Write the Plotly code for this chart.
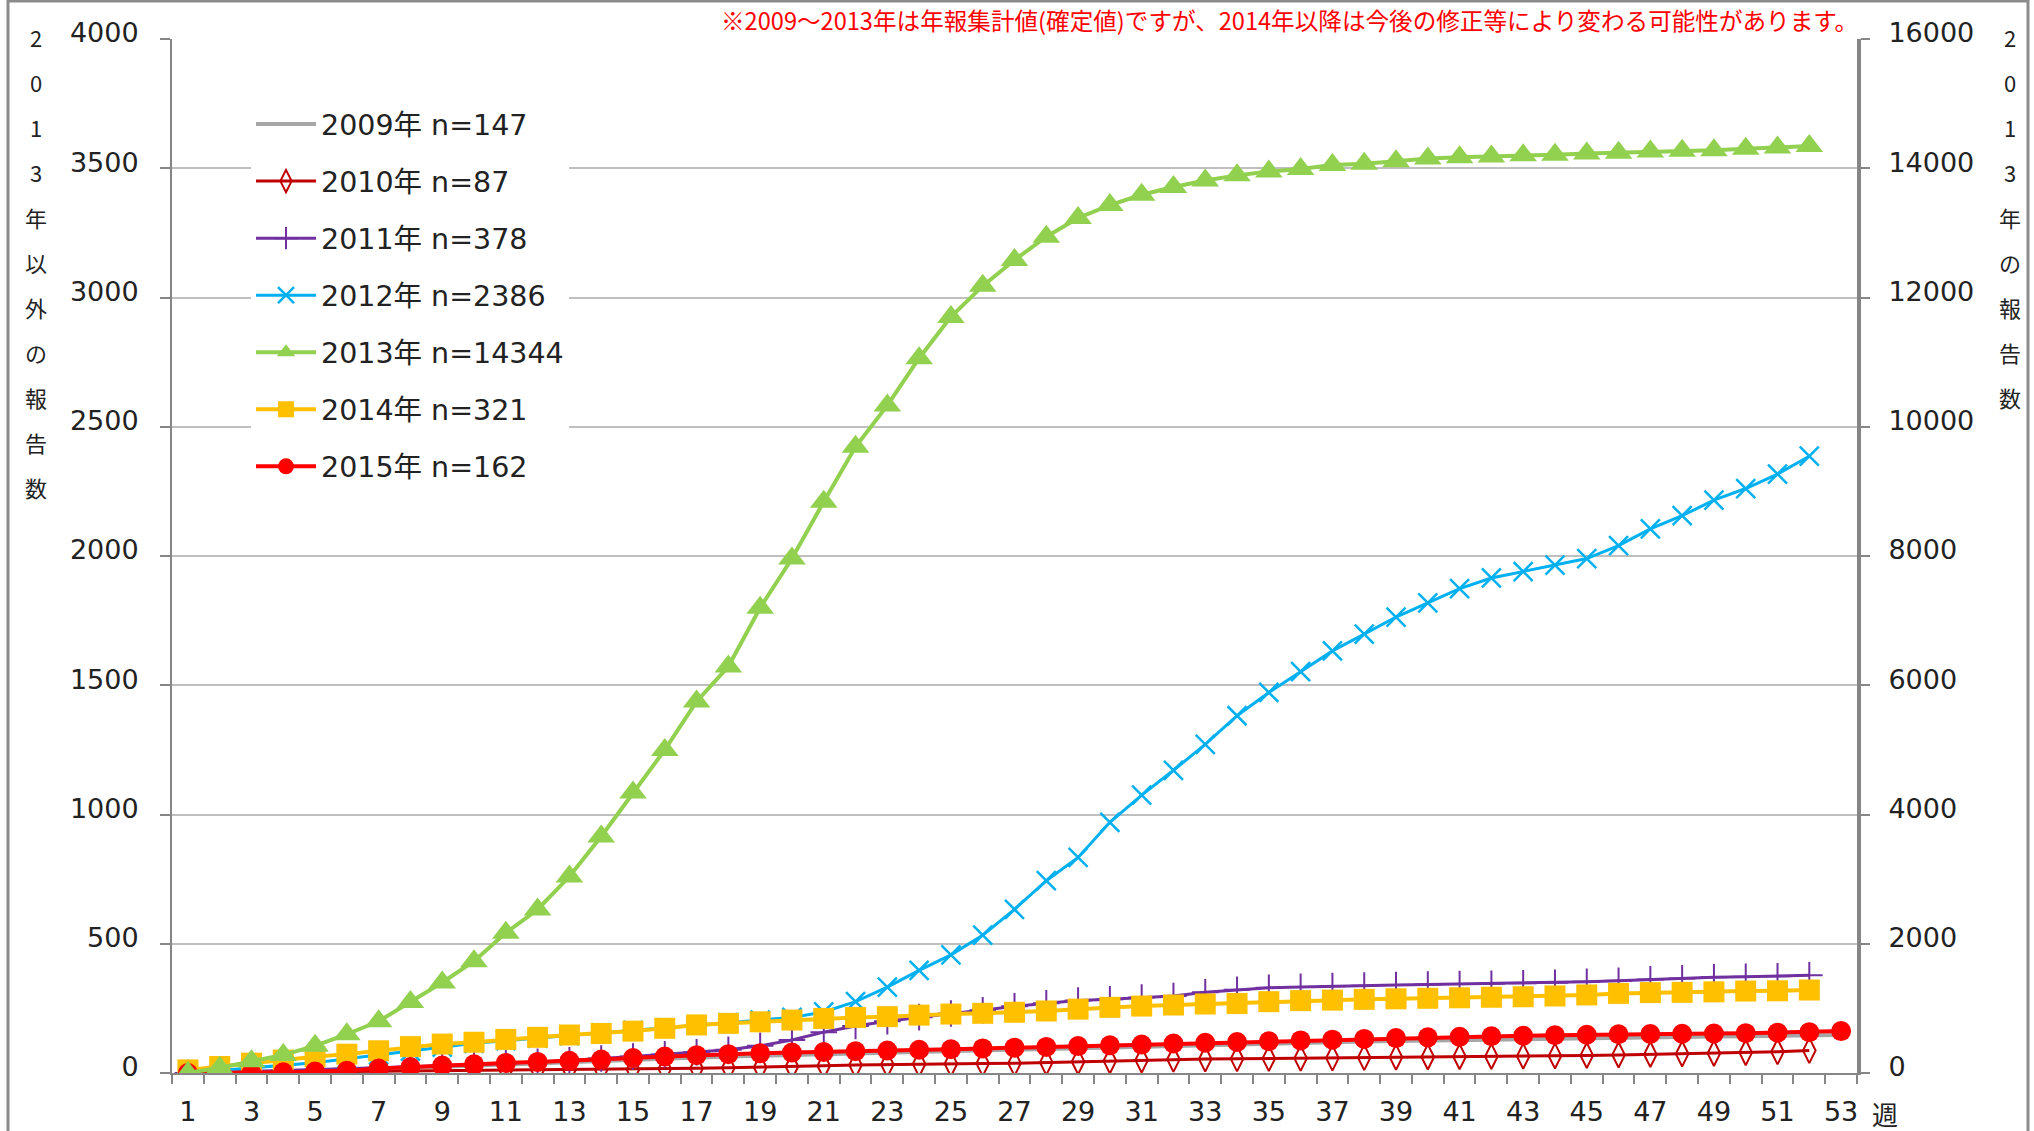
import plotly.graph_objects as go

# ---- data: cumulative weekly reports ----
weeks_52 = list(range(1, 53))
weeks_53 = list(range(1, 54))

y2009 = [0, 0, 0, 2, 5, 8, 15, 20, 25, 30, 34, 38, 42, 46, 51, 56, 60, 64, 67, 70,
         73, 76, 79, 82, 85, 88, 92, 95, 98, 101, 104, 107, 110, 113, 116, 118, 120,
         122, 124, 126, 128, 130, 132, 134, 136, 138, 139, 140, 141, 142, 144, 145, 147]
y2010 = [0, 1, 2, 3, 4, 5, 6, 7, 8, 9, 10, 11, 12, 13, 14, 16, 18, 20, 22, 25,
         28, 31, 33, 35, 36, 37, 38, 41, 44, 47, 50, 53, 54, 55, 56, 57, 58, 60, 61,
         62, 63, 64, 65, 66, 68, 70, 72, 74, 76, 79, 82, 87]
y2011 = [0, 3, 6, 9, 12, 16, 20, 24, 28, 33, 38, 43, 49, 56, 64, 72, 80, 90, 105, 128,
         158, 182, 200, 216, 230, 243, 258, 270, 280, 285, 292, 298, 312, 322, 330, 333,
         336, 338, 340, 342, 344, 345, 347, 349, 353, 357, 362, 366, 370, 372, 374, 378]
y2012 = [0, 10, 20, 30, 40, 55, 70, 85, 100, 115, 125, 135, 145, 155, 165, 175, 185, 195,
         205, 215, 236, 276, 332, 397, 457, 533, 633, 744, 834, 970, 1075, 1171, 1271,
         1382, 1472, 1553, 1633, 1698, 1764, 1819, 1874, 1915, 1940, 1965, 1990, 2040,
         2105, 2156, 2216, 2261, 2317, 2386]
y2013 = [0, 80, 180, 280, 420, 600, 800, 1100, 1400, 1730, 2170, 2530, 3040, 3660, 4340,
         5000, 5750, 6290, 7200, 7960, 8840, 9690, 10330, 11060, 11700, 12180, 12580,
         12940, 13230, 13430, 13590, 13710, 13810, 13890, 13950, 13990, 14050, 14070,
         14110, 14150, 14170, 14180, 14200, 14210, 14230, 14240, 14260, 14270, 14280,
         14300, 14320, 14344]
y2014 = [12, 25, 38, 50, 63, 73, 86, 102, 112, 119, 130, 138, 147, 153, 162, 173, 186,
         192, 198, 205, 211, 215, 218, 224, 228, 231, 235, 240, 247, 254, 259, 263, 267,
         269, 276, 280, 282, 285, 287, 289, 291, 293, 295, 298, 302, 308, 311, 312, 314,
         317, 318, 321]
y2015 = [0, 0, 0, 3, 6, 9, 17, 23, 29, 34, 39, 43, 47, 52, 58, 64, 69, 73, 76, 79, 81,
         84, 87, 90, 92, 95, 98, 101, 104, 107, 110, 114, 117, 120, 123, 126, 129, 132,
         135, 138, 140, 142, 144, 146, 148, 150, 151, 152, 153, 154, 156, 158, 162]

x_tick_weeks = list(range(1, 54, 2))
x_tick_text = [str(w) for w in x_tick_weeks]
left_title = "2013年以外の報告数"
right_title = "2013年の報告数"
note_text = "※2009～2013年は年報集計値(確定値)ですが、2014年以降は今後の修正等により変わる可能性があります。"
week_label = "週"

# ---- page geometry (pixels) ----
W, H = 2034, 1131
PL, PR, PT, PB = 172, 1857, 39, 1073
FONT = "DejaVu Sans, Noto Sans CJK JP, sans-serif"
CJK = "Noto Sans CJK JP, sans-serif"


def px_x(px):
    return (px - PL) / (PR - PL)


def px_y(py):
    return (PB - py) / (PB - PT)


fig = go.Figure()

fig.add_trace(go.Scatter(
    x=weeks_53, y=y2009, name="2009年 n=147", legendgroup="a",
    mode="lines", line=dict(color="#A6A6A6", width=4)))
fig.add_trace(go.Scatter(
    x=weeks_52, y=y2010, name="2010年 n=87", legendgroup="b",
    mode="lines+markers", line=dict(color="#C00000", width=3),
    marker=dict(symbol="diamond-tall-open", size=18, color="#C00000",
                line=dict(width=2, color="#C00000"))))
fig.add_trace(go.Scatter(
    x=weeks_52, y=y2011, name="2011年 n=378", legendgroup="c",
    mode="lines+markers", line=dict(color="#7030A0", width=3),
    marker=dict(symbol="cross-thin", size=19, color="#7030A0",
                line=dict(width=2, color="#7030A0"))))
fig.add_trace(go.Scatter(
    x=weeks_52, y=y2012, name="2012年 n=2386", legendgroup="d",
    mode="lines+markers", line=dict(color="#00B0F0", width=3),
    marker=dict(symbol="x-thin", size=19, color="#00B0F0",
                line=dict(width=2.5, color="#00B0F0"))))
fig.add_trace(go.Scatter(
    x=weeks_52, y=y2013, name="2013年 n=14344", legendgroup="e", yaxis="y2",
    mode="lines+markers", line=dict(color="#92D050", width=4),
    marker=dict(symbol="triangle-up", size=24, color="#92D050")))
fig.add_trace(go.Scatter(
    x=weeks_52, y=y2014, name="2014年 n=321", legendgroup="f",
    mode="lines+markers", line=dict(color="#FFC000", width=4),
    marker=dict(symbol="square", size=21, color="#FFC000")))
fig.add_trace(go.Scatter(
    x=weeks_53, y=y2015, name="2015年 n=162", legendgroup="g",
    mode="lines+markers", line=dict(color="#FF0000", width=4),
    marker=dict(symbol="circle", size=20, color="#FF0000")))

annotations = []
for i, ch in enumerate(left_title):
    annotations.append(dict(text=ch, x=px_x(36), y=px_y(37 + 45 * i), xref="paper", yref="paper",
                            xanchor="center", yanchor="middle", showarrow=False,
                            font=dict(family=CJK, size=22, color="#222222")))
for i, ch in enumerate(right_title):
    annotations.append(dict(text=ch, x=px_x(2010), y=px_y(37 + 45 * i), xref="paper", yref="paper",
                            xanchor="center", yanchor="middle", showarrow=False,
                            font=dict(family=CJK, size=22, color="#222222")))
annotations.append(dict(text=note_text, x=px_x(1860), y=px_y(20), xref="paper", yref="paper",
                        xanchor="right", yanchor="middle", showarrow=False,
                        font=dict(family=CJK, size=23.6, color="#FF0000")))
annotations.append(dict(text=week_label, x=px_x(1885), y=px_y(1113), xref="paper", yref="paper",
                        xanchor="center", yanchor="middle", showarrow=False,
                        font=dict(family=CJK, size=26, color="#222222")))

# outer frame of the chart
shapes = [dict(type="rect", xref="paper", yref="paper",
               x0=px_x(8), x1=px_x(2028), y0=px_y(1140), y1=px_y(1),
               line=dict(color="#8C8C8C", width=3), layer="below")]

fig.update_layout(
    width=W, height=H, autosize=False,
    margin=dict(l=PL, r=W - PR, t=PT, b=H - PB, pad=0, autoexpand=False),
    paper_bgcolor="white", plot_bgcolor="white",
    font=dict(family=FONT, size=27, color="#222222"),
    showlegend=True,
    legend=dict(x=px_x(251), y=px_y(99), xanchor="left", yanchor="top",
                bgcolor="white", borderwidth=0, tracegroupgap=17, itemwidth=60,
                font=dict(family=FONT, size=28.5, color="#222222")),
    xaxis=dict(range=[0.5, 53.5], tickvals=x_tick_weeks, ticktext=x_tick_text,
               automargin=False,
               showgrid=False, zeroline=False, showline=True, linecolor="#868686", linewidth=2,
               ticks="", ticklabelstandoff=14, tickfont=dict(size=27),
               minor=dict(ticks="outside", tick0=0.5, dtick=1, ticklen=9,
                          tickcolor="#868686", tickwidth=1.5, showgrid=False)),
    yaxis=dict(range=[0, 4000], dtick=500, tickformat="d", showgrid=True, automargin=False,
               gridcolor="#BFBFBF", gridwidth=2,
               zeroline=False, showline=True, linecolor="#868686", linewidth=2,
               ticks="outside", ticklen=10, tickcolor="#868686", tickwidth=2,
               ticklabelstandoff=16, ticklabelshift=-6, tickfont=dict(size=27)),
    yaxis2=dict(range=[0, 16000], dtick=2000, tickformat="d", overlaying="y", side="right",
                showgrid=False, automargin=False,
                zeroline=False, showline=True, linecolor="#868686", linewidth=4,
                ticks="outside", ticklen=9, tickcolor="#868686", tickwidth=2,
                ticklabelstandoff=13, ticklabelshift=-6, tickfont=dict(size=27)),
    annotations=annotations,
    shapes=shapes,
)

fig.write_html("out.html")
